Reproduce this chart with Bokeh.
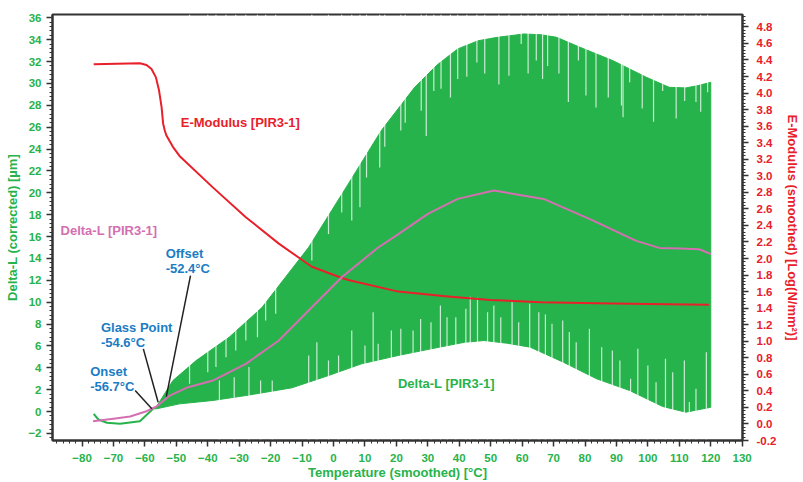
from bokeh.plotting import figure
from bokeh.models import Range1d, LinearAxis, FixedTicker, NumeralTickFormatter
from bokeh.core.properties import value
from bokeh.embed import file_html
from bokeh.resources import INLINE

# ---------------- data ----------------
# E-Modulus [PIR3-1] (right axis, Log(N/mm2))
em_T = [-76.3, -61.6, -59.5, -57.9, -56.5, -55.5, -54.7, -54.2, -53.7, -53.2, -51.1, -49.0,
        -38.4, -27.9, -17.4, -6.9, 1.6, 4.7, 20.6, 36.4, 49.9, 66.0, 83.7, 100.0, 119.4]
em_V = [4.35, 4.36, 4.34, 4.29, 4.19, 4.03, 3.83, 3.63, 3.55, 3.49, 3.35, 3.24,
        2.86, 2.50, 2.18, 1.90, 1.78, 1.74, 1.60, 1.54, 1.50, 1.47, 1.46, 1.45, 1.44]

# Delta-L [PIR3-1] pink curve (left axis, um)
pk_T = [-76.5, -70.0, -64.7, -59.5, -56.3, -52.1, -46.8, -38.4, -27.9, -17.4, -6.9,
        2.6, 14.2, 20.5, 30.0, 39.5, 51.0, 66.8, 82.6, 96.3, 103.6, 110.0, 116.3, 120.0]
pk_L = [-0.89, -0.67, -0.46, 0.03, 0.46, 1.46, 2.17, 2.83, 4.36, 6.49, 9.53,
        12.28, 15.0, 16.2, 18.07, 19.44, 20.2, 19.44, 17.46, 15.6, 14.96, 14.9, 14.84, 14.4]

# Delta-L (corrected) green single trace before the band starts
gl_T = [-76.3, -74.8, -72.1, -67.9, -61.6, -57.4]
gl_L = [-0.21, -0.73, -1.03, -1.12, -0.89, 0.25]

# Delta-L green oscillation envelope
up_T = [-57.4, -56.3, -51.1, -43.7, -33.2, -22.7, -15.3, -7.9, -0.6, 4.7, 15.2, 25.8,
        33.0, 39.5, 46.0, 52.1, 60.5, 66.0, 71.0, 78.4, 88.9, 99.5, 106.8, 112.1, 116.0, 120.0]
up_L = [0.25, 0.46, 2.83, 4.66, 6.79, 9.53, 12.28, 15.02, 18.37, 20.81, 25.69, 29.64,
        31.7, 33.15, 33.9, 34.21, 34.52, 34.45, 34.21, 33.3, 32.08, 30.56, 29.64, 29.59, 29.8, 30.1]
lo_T = [-57.4, -56.3, -49.0, -38.4, -27.9, -13.2, -1.6, 8.9, 20.5, 31.0, 41.6, 47.9,
        55.3, 62.6, 73.1, 83.7, 94.2, 104.7, 112.1, 120.0]
lo_L = [0.25, 0.25, 0.70, 1.01, 1.46, 2.17, 3.29, 4.36, 5.12, 5.73, 6.33, 6.49,
        6.24, 5.88, 4.51, 2.99, 1.92, 0.46, -0.06, 0.39]

# gaps in the oscillation: reaching down from the upper edge (T, lowest L)
gap_top_T = [-45.8, -40.0, -37.4, -34.2, -31.1, -27.9, -24.2, -21.6, -18.4,
             -6.9, -1.6, 2.6, 5.8, 8.4, 10.5, 14.7, 16.3,
             21.4, 22.8, 27.9, 29.5, 31.9, 34.2, 37.2, 39.5, 42.4, 45.6, 48.1, 52.6, 55.8,
             59.7, 61.9, 64.5, 66.5, 68.1, 71.7, 74.7, 77.9, 80.3, 83.5, 87.4, 91.6, 92.1,
             94.2, 98.2, 101.8, 104.7, 109.0, 111.7, 115.3, 116.8, 119.0]
gap_top_L = [2.53, 3.60, 4.06, 4.97, 5.58, 6.49, 6.80, 8.32, 8.93,
             13.8, 16.24, 18.2, 17.46, 18.68, 21.4, 22.3, 24.2,
             25.7, 26.4, 27.5, 25.2, 29.3, 29.5, 28.7, 30.4, 30.6, 31.9, 30.9, 29.9, 30.7,
             33.6, 30.9, 32.1, 30.4, 31.6, 30.9, 28.3, 32.1, 28.9, 27.8, 28.7, 27.97, 26.9,
             30.1, 27.7, 26.5, 29.3, 26.8, 28.4, 28.3, 27.4, 29.2]
# gaps reaching up from the lower edge (T, highest L)
gap_bot_T = [-36.3, -31.6, -26.9, -23.2, -19.5, -7.9, -5.3, -1.6, 1.6, 5.8, 10.0, 12.6,
             14.2, 18.4, 21.4, 25.3, 27.7, 31.0, 34.0, 36.1, 38.9, 42.1, 43.5, 45.8,
             49.0, 51.0, 53.2, 56.8, 58.9, 62.4, 65.3, 67.4, 69.5, 72.9, 75.0, 77.2,
             81.4, 85.3, 88.7, 91.1, 94.5, 96.8, 100.0, 102.6, 105.6, 107.9, 111.6,
             113.2, 115.3, 118.6]
gap_bot_L = [2.84, 3.14, 4.06, 2.84, 2.84, 5.12, 6.34, 4.67, 5.12, 7.41, 6.04, 9.08,
             6.19, 7.41, 7.56, 7.41, 8.47, 8.17, 9.69, 8.63, 8.63, 9.39, 10.5, 10.4,
             9.08, 9.69, 8.63, 10.0, 8.17, 9.85, 9.08, 8.87, 8.02, 8.32, 7.26, 6.34,
             7.56, 5.88, 5.58, 4.67, 3.0, 5.73, 4.21, 2.68, 4.82, 3.6, 4.67,
             0.86, 2.08, 5.43]

# characteristic temperatures (leader lines: text end -> curve point)
ann_names = ["Onset\n-56.7\u00b0C", "Glass Point\n-54.6\u00b0C", "Offset\n-52.4\u00b0C"]
ann_tx = [-77.4, -74.0, -53.4]
ann_ty = [4.35, 8.35, 15.15]
lead_x0 = [-63.1, -60.5, -45.5]
lead_y0 = [1.92, 5.73, 12.43]
lead_x1 = [-57.8, -55.8, -53.2]
lead_y1 = [0.25, 0.85, 1.37]

x_ticks = list(range(-80, 131, 10))
yl_ticks = list(range(-2, 37, 2))
yr_ticks = [round(-0.2 + 0.2 * i, 1) for i in range(26)]

# ---------------- styling ----------------
GREEN = "#27b34b"
RED = "#e8202a"
PINK = "#d46fb2"
BLUE = "#1b7cc4"
FONT = "Liberation Sans"
DARK = "#333333"

Y0, Y1 = -2.65, 36.3
p = figure(width=803, height=482, output_backend="svg", toolbar_location=None,
           x_range=Range1d(-89.4, 130.1), y_range=Range1d(Y0, Y1),
           min_border_left=52, min_border_right=56, min_border_top=14, min_border_bottom=42)
p.extra_y_ranges = {"em": Range1d(-0.2, 4.95)}
p.grid.visible = False
p.outline_line_color = DARK
p.outline_line_width = 2
p.background_fill_color = "white"

yr = LinearAxis(y_range_name="em")
p.add_layout(yr, "right")


def style(ax, color, label):
    ax.axis_label = label
    ax.axis_label_text_font = FONT
    ax.axis_label_text_font_style = "bold"
    ax.axis_label_text_font_size = "13px"
    ax.axis_label_text_color = color
    ax.major_label_text_font = FONT
    ax.major_label_text_font_style = "bold"
    ax.major_label_text_font_size = "11.5px"
    ax.major_label_text_color = color
    ax.axis_line_color = DARK
    ax.axis_line_width = 2
    ax.major_tick_line_color = DARK
    ax.minor_tick_line_color = DARK
    ax.major_tick_line_width = 1.5
    ax.minor_tick_line_width = 1
    ax.major_tick_in = 0
    ax.major_tick_out = 6
    ax.minor_tick_in = 0
    ax.minor_tick_out = 3


xa = p.xaxis[0]
style(xa, GREEN, "Temperature (smoothed) [\u00b0C]")
xa.ticker = FixedTicker(ticks=x_ticks, minor_ticks=[-88 + 2 * i for i in range(110)])
xa.major_label_standoff = 7
xa.axis_label_standoff = 0

ya = p.yaxis[0]
style(ya, GREEN, "Delta-L (corrected) [\u00b5m]")
ya.ticker = FixedTicker(ticks=yl_ticks, minor_ticks=[round(-2.4 + 0.4 * i, 2) for i in range(97)])
ya.major_label_standoff = 5
ya.axis_label_standoff = 5

style(yr, RED, "E-Modulus (smoothed) [Log(N/mm\u00b2)]")
yr.ticker = FixedTicker(ticks=yr_ticks, minor_ticks=[round(-0.2 + 0.04 * i, 2) for i in range(129)])
yr.formatter = NumeralTickFormatter(format="0.0")
yr.major_label_standoff = 8
yr.axis_label_standoff = 6

# green band (oscillation envelope)
p.patch(up_T + lo_T[::-1], up_L + lo_L[::-1], fill_color=GREEN, line_color=GREEN, line_width=1)
# light gaps between the oscillation strokes
p.segment(gap_top_T, [Y1] * len(gap_top_T), gap_top_T, gap_top_L,
          line_color="white", line_alpha=0.75, line_width=1.2)
p.segment(gap_bot_T, [Y0] * len(gap_bot_T), gap_bot_T, gap_bot_L,
          line_color="white", line_alpha=0.75, line_width=1.2)
p.line(gl_T, gl_L, line_color=GREEN, line_width=2)

# red E-modulus and pink Delta-L curves
p.line(em_T, em_V, y_range_name="em", line_color=RED, line_width=2, line_join="round")
p.line(pk_T, pk_L, line_color=PINK, line_width=2, line_join="round")

# leader lines
p.segment(lead_x0, lead_y0, lead_x1, lead_y1, line_color="#222222", line_width=1.5)

# annotations
p.text(ann_tx, ann_ty, text=ann_names, text_font=value(FONT), text_font_style="bold",
       text_font_size="13px", text_color=BLUE, text_baseline="top", text_align="left",
       text_line_height=0.98)

p.text([-48.6], [26.42], text=["E-Modulus [PIR3-1]"], text_font=value(FONT), text_font_style="bold",
       text_font_size="13px", text_color=RED, text_baseline="middle", text_align="left")
p.text([-86.85], [16.54], text=["Delta-L [PIR3-1]"], text_font=value(FONT), text_font_style="bold",
       text_font_size="13px", text_color=PINK, text_baseline="middle", text_align="left")
p.text([20.5], [2.56], text=["Delta-L [PIR3-1]"], text_font=value(FONT), text_font_style="bold",
       text_font_size="13px", text_color=GREEN, text_baseline="middle", text_align="left")

open("out.html", "w").write(file_html(p, INLINE))
